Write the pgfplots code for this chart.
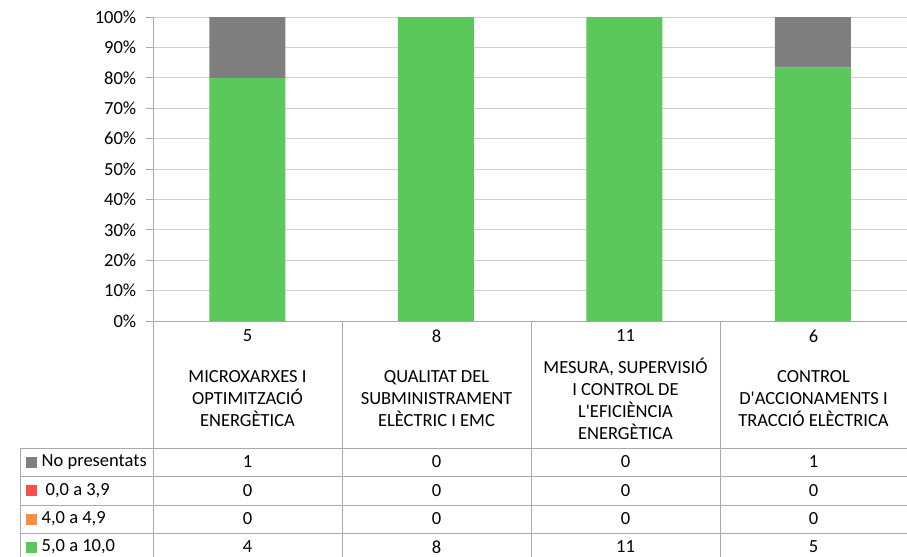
\documentclass[border=0pt]{standalone}
\usepackage{pgfplots}
\pgfplotsset{compat=1.18}
\usepackage{fontspec}
\setmainfont{Carlito}
\definecolor{cgreen}{RGB}{91,200,91}
\definecolor{cgray}{RGB}{127,127,127}
\definecolor{cred}{RGB}{255,77,77}
\definecolor{corange}{RGB}{255,143,64}
\definecolor{gridc}{RGB}{210,210,210}
\definecolor{tblc}{RGB}{170,170,170}
\newcommand{\sq}{\XeTeXglyph\XeTeXcharglyph"0027\relax}
\begin{document}
\fontsize{18.5bp}{22bp}\selectfont
\begin{tikzpicture}
\path[use as bounding box] (0,0) rectangle (907bp,-557bp);
\begin{axis}[
  at={(153bp,-321bp)}, anchor=south west,
  scale only axis, width=754bp, height=304bp,
  ybar stacked, bar width=76bp,
  xmin=-0.5, xmax=3.5, ymin=0, ymax=100,
  xtick=\empty,
  ytick={0,10,...,100},
  yticklabel={\pgfmathparse{int(\tick)}\pgfmathresult\%},
  yticklabel style={font=\fontsize{18.5bp}{22bp}\selectfont, xshift=-4bp},
  axis lines*=left,
  axis line style={draw=tblc, line width=0.8bp},
  tick style={draw=tblc, line width=0.8bp},
  tick align=outside, major tick length=6.5bp,
  ymajorgrids, grid style={draw=gridc, line width=0.8bp},
]
\addplot[fill=cgreen, draw=none] coordinates {(0,80) (1,100) (2,100) (3,83.33)};
\addplot[fill=corange, draw=none] coordinates {(0,0) (1,0) (2,0) (3,0)};
\addplot[fill=cred, draw=none] coordinates {(0,0) (1,0) (2,0) (3,0)};
\addplot[fill=cgray, draw=none] coordinates {(0,20) (1,0) (2,0) (3,16.67)};
\end{axis}
% table lines
\begin{scope}[draw=tblc, line width=0.8bp]
\foreach \x in {153,342,531,720} \draw (\x bp,-321bp) -- (\x bp,-560bp);
\foreach \y in {448,476.5,505,533.5} \draw (20bp,-\y bp) -- (907bp,-\y bp);
\draw (20bp,-448bp) -- (20bp,-560bp);
\end{scope}
% header
\foreach \x/\n in {247.5/5,436.5/8,625.5/11,813.5/6}
  \node at (\x bp,-336bp) {\n};
\node[align=center] at (247.5bp,-399bp) {MICROXARXES I\\OPTIMITZACIÓ\\ENERGÈTICA};
\node[align=center] at (436.5bp,-399bp) {QUALITAT DEL\\SUBMINISTRAMENT\\ELÈCTRIC I EMC};
\node[align=center] at (625.5bp,-399bp) {MESURA, SUPERVISIÓ\\I CONTROL DE\\L\sq EFICIÈNCIA\\ENERGÈTICA};
\node[align=center] at (813.5bp,-399bp) {CONTROL\\D\sq ACCIONAMENTS I\\TRACCIÓ ELÈCTRICA};
% legend column
\foreach \y/\c/\t in {462/cgray/No presentats,490.5/cred/{\hspace{4bp}0,0 a 3,9},519/corange/{4,0 a 4,9},547/cgreen/{5,0 a 10,0}}{
  \fill[\c] (25.5bp,-\y bp-5.5bp) rectangle (36.5bp,-\y bp+5.5bp);
  \node[anchor=west, inner sep=0pt] at (41.5bp,-\y bp) {\t};
}
% values
\foreach \y/\a/\b/\c/\d in {462/1/0/0/1,490.5/0/0/0/0,519/0/0/0/0,547/4/8/11/5}{
  \node at (247.5bp,-\y bp) {\a};
  \node at (436.5bp,-\y bp) {\b};
  \node at (625.5bp,-\y bp) {\c};
  \node at (813.5bp,-\y bp) {\d};
}
\end{tikzpicture}
\end{document}
